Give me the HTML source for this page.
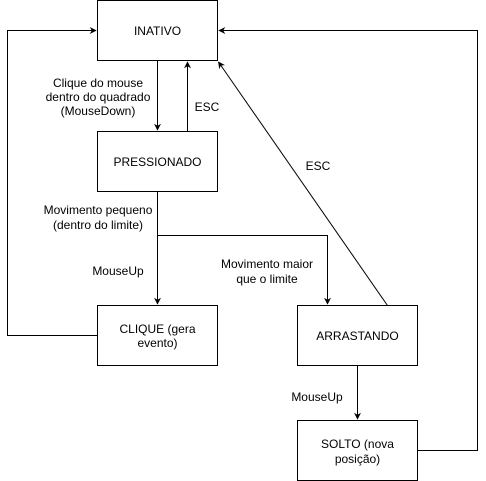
<!DOCTYPE html>
<html><head><meta charset="utf-8"><style>
html,body{margin:0;padding:0;background:#fff;}
svg{display:block;}
text{font-family:"Liberation Sans",Arial,sans-serif;font-size:12px;fill:#000;}
</style></head><body>
<svg width="486" height="481" viewBox="0 0 486 481" xmlns="http://www.w3.org/2000/svg">
<defs>
<marker id="a" viewBox="0 0 10 10" refX="9" refY="5" markerWidth="7" markerHeight="7" orient="auto" markerUnits="userSpaceOnUse">
<path d="M0,0 L10,5 L0,10 L3,5 z" fill="#000"/>
</marker>
</defs>
<g fill="#fff" stroke="#000" stroke-width="1">
<rect x="97.5" y="0.5" width="120" height="60"/>
<rect x="97.5" y="131.5" width="120" height="60"/>
<rect x="97.5" y="305.5" width="120" height="60"/>
<rect x="297.5" y="305.5" width="120" height="60"/>
<rect x="297.5" y="420.5" width="120" height="60"/>
</g>
<g fill="none" stroke="#000" stroke-width="1" marker-end="url(#a)">
<path d="M157.5 60.5 V130"/>
<path d="M187.5 131.5 V62"/>
<path d="M157.5 191.5 V304"/>
<path d="M157.5 235.5 H327.5 V304"/>
<path d="M387.5 305.5 L218.5 62"/>
<path d="M357.5 365.5 V419"/>
<path d="M97.5 335.5 H7.5 V30.5 H96"/>
<path d="M417.5 450.5 H477.5 V30.5 H219"/>
</g>
<g text-anchor="middle">
<text x="157.5" y="35">INATIVO</text>
<text x="157.5" y="166">PRESSIONADO</text>
<text x="157.5" y="333">CLIQUE (gera</text>
<text x="157.5" y="347">evento)</text>
<text x="357.5" y="340">ARRASTANDO</text>
<text x="357.5" y="448">SOLTO (nova</text>
<text x="357.5" y="463">posição)</text>
<text x="98" y="87">Clique do mouse</text>
<text x="98" y="101">dentro do quadrado</text>
<text x="98" y="115">(MouseDown)</text>
<text x="207" y="111">ESC</text>
<text x="318" y="170">ESC</text>
<text x="98" y="214">Movimento pequeno</text>
<text x="98" y="229">(dentro do limite)</text>
<text x="118" y="275">MouseUp</text>
<text x="267" y="268">Movimento maior</text>
<text x="267" y="283">que o limite</text>
<text x="317" y="401">MouseUp</text>
</g>
</svg>
</body></html>
